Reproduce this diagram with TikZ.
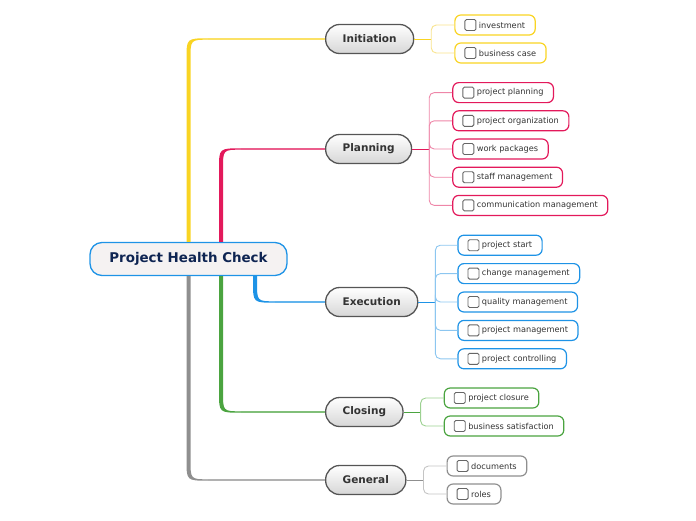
\documentclass[tikz,border=0pt]{standalone}
\usepackage{fontspec}
\setmainfont{DejaVu Sans}
\usepackage{xcolor}
\usepackage{tikz}
\usetikzlibrary{calc}

\definecolor{cyel}{HTML}{F9D423}
\definecolor{cyelL}{HTML}{F8E38C}
\definecolor{cred}{HTML}{E3195B}
\definecolor{credL}{HTML}{EE86A8}
\definecolor{cblue}{HTML}{1E93E6}
\definecolor{cblueL}{HTML}{8CC6F0}
\definecolor{cgreen}{HTML}{4BA440}
\definecolor{cgreenL}{HTML}{9CD191}
\definecolor{cgray}{HTML}{8F8F8F}
\definecolor{cgrayL}{HTML}{C4C4C4}
\definecolor{cdark}{HTML}{555555}
\definecolor{ctext}{HTML}{333333}
\definecolor{cnavy}{HTML}{0E2452}
\definecolor{rootfill}{HTML}{F5F2F2}

\tikzset{
  root/.style={draw=cblue, line width=1.3pt, fill=rootfill, rounded corners=12pt,
    minimum width=197pt, minimum height=33pt, text=cnavy,
    font=\fontsize{13.4}{16}\selectfont\bfseries},
  topic/.style={draw=cdark, line width=1.3pt, rounded corners=14pt, top color=white,
    bottom color=black!16, minimum height=29pt, inner xsep=17pt, anchor=west,
    text=ctext, font=\fontsize{10.5}{12}\selectfont\bfseries},
  leaf/.style={draw=#1, line width=1.2pt, fill=white, rounded corners=6pt,
    minimum height=20pt, inner xsep=10pt, inner ysep=0pt, anchor=west, text=ctext,
    font=\fontsize{8.2}{10}\selectfont, execute at begin node=\hspace*{14pt},
    path picture={\draw[black!60, line width=0.9pt, rounded corners=1.5pt]
      ([xshift=10pt,yshift=-5.5pt]path picture bounding box.west) rectangle ++(11pt,11pt);}},
  stem/.style={line width=1pt, #1},
  twig/.style={line width=0.9pt, rounded corners=5pt, #1},
}

\begin{document}
\begin{tikzpicture}[x=1pt, y=-1pt]
  \useasboundingbox (0,0) rectangle (696,520);
  % central topic and main topics
  \node[root] (root) at (188.5,259) {Project Health Check};
  \node[topic] (ini) at (325,39) {Initiation};
  \node[topic] (pl) at (325,149) {Planning};
  \node[topic] (ex) at (325,302) {Execution};
  \node[topic] (cl) at (325,412) {Closing};
  \node[topic] (ge) at (325,480) {General};
  % branches from the central topic (tapered)
  \coordinate (s-ini) at (root.north);
  \coordinate (s-pl) at ($(root.north)+(32.5,0)$);
  \coordinate (s-ex) at ($(root.south)+(66.5,0)$);
  \coordinate (s-cl) at ($(root.south)+(32.5,0)$);
  \coordinate (s-ge) at (root.south);
  \foreach \t/\c/\d in {ini/cyel/1, pl/cred/1, ex/cblue/-1, cl/cgreen/-1, ge/cgray/-1} {
    \coordinate (k) at (s-\t |- \t.west);
    \fill[\c] ($(s-\t)+(-2,0)$) -- ($(k)+(-2,\d*20)$)
      .. controls ($(k)+(-2,-\d*0.7)$) .. ($(k)+(20,-\d*0.7)$)
      -- ($(k)+(20,\d*0.7)$)
      .. controls ($(k)+(2,\d*0.7)$) .. ($(k)+(2,\d*20)$)
      -- ($(s-\t)+(2,0)$) -- cycle;
    \draw[line width=1.4pt, \c!70] ($(k)+(19.5,0)$) -- (\t.west);
  }
  % Initiation
  \coordinate (ini-j) at ($(ini.east)+(17,0)$);
  \draw[stem=cyel] (ini.east) -- (ini-j);
  \foreach \txt [count=\i] in {investment, business case} {
    \node[leaf=cyel] (ini-\i) at ($(ini-j)+(23,{(\i-1.5)*28})$) {\txt};
    \draw[twig=cyelL] (ini-j) |- (ini-\i.west);
  }
  % Planning
  \coordinate (pl-j) at ($(pl.east)+(17,0)$);
  \draw[stem=cred] (pl.east) -- (pl-j);
  \foreach \txt [count=\i] in {project planning, project organization, work packages,
      staff management, communication management} {
    \node[leaf=cred] (pl-\i) at ($(pl-j)+(23,{(\i-3)*28.2})$) {\txt};
    \draw[twig=credL] (pl-j) |- (pl-\i.west);
  }
  % Execution
  \coordinate (ex-j) at ($(ex.east)+(17,0)$);
  \draw[stem=cblue] (ex.east) -- (ex-j);
  \foreach \txt [count=\i] in {project start, change management, quality management,
      project management, project controlling} {
    \node[leaf=cblue] (ex-\i) at ($(ex-j)+(22,{(\i-3)*28.4})$) {\txt};
    \draw[twig=cblueL] (ex-j) |- (ex-\i.west);
  }
  % Closing
  \coordinate (cl-j) at ($(cl.east)+(17,0)$);
  \draw[stem=cgreen] (cl.east) -- (cl-j);
  \foreach \txt [count=\i] in {project closure, business satisfaction} {
    \node[leaf=cgreen] (cl-\i) at ($(cl-j)+(23,{(\i-1.5)*28})$) {\txt};
    \draw[twig=cgreenL] (cl-j) |- (cl-\i.west);
  }
  % General
  \coordinate (ge-j) at ($(ge.east)+(17,0)$);
  \draw[stem=cgray] (ge.east) -- (ge-j);
  \foreach \txt [count=\i] in {documents, roles} {
    \node[leaf=cgray] (ge-\i) at ($(ge-j)+(23,{(\i-1.5)*28})$) {\txt};
    \draw[twig=cgrayL] (ge-j) |- (ge-\i.west);
  }
\end{tikzpicture}
\end{document}
